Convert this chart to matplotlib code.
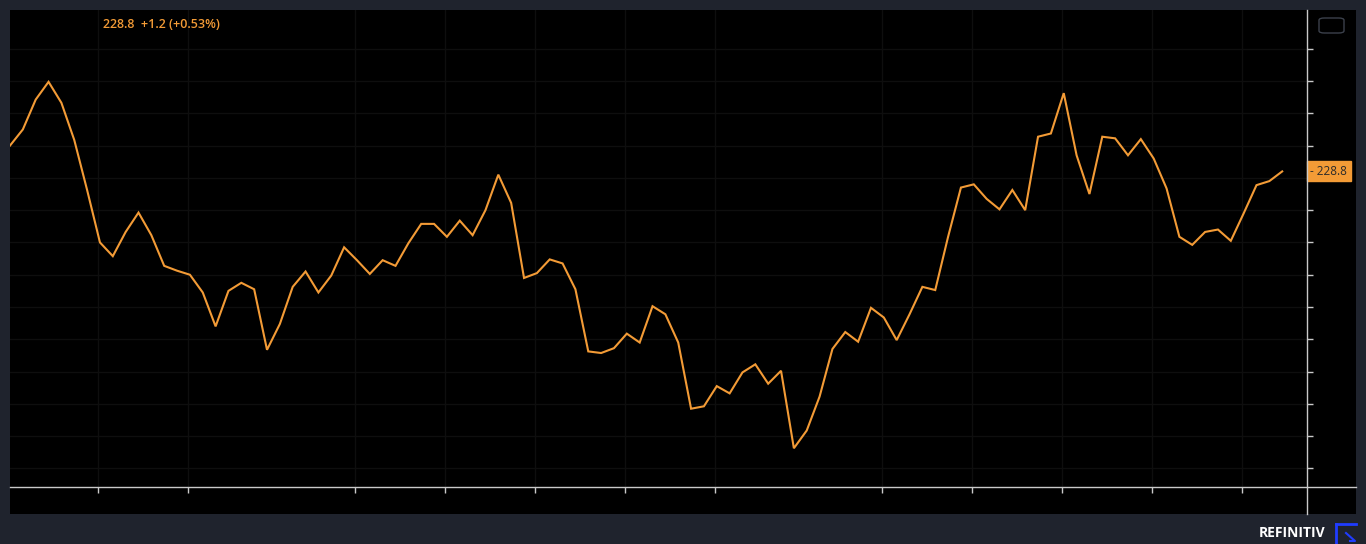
import matplotlib.pyplot as plt
from matplotlib.lines import Line2D
from matplotlib.patches import FancyBboxPatch

# price series (one point per session)
prices = [232.0, 234.0, 237.7, 239.9, 237.3, 232.7, 226.5, 220.0, 218.3, 221.3,
          223.7, 220.9, 217.1, 216.5, 216.0, 213.8, 209.6, 214.0, 215.0, 214.2,
          206.7, 209.9, 214.5, 216.4, 213.8, 215.9, 219.4, 217.8, 216.1, 217.8,
          217.1, 219.9, 222.3, 222.3, 220.7, 222.7, 220.9, 224.0, 228.4, 224.9,
          215.6, 216.2, 217.9, 217.4, 214.2, 206.5, 206.3, 206.9, 208.7, 207.6,
          212.1, 211.1, 207.6, 199.4, 199.7, 202.2, 201.3, 203.9, 204.9, 202.5,
          204.1, 194.5, 196.7, 200.9, 206.8, 208.9, 207.7, 211.9, 210.7, 207.9,
          211.1, 214.5, 214.1, 220.7, 226.8, 227.2, 225.4, 224.1, 226.5, 224.0,
          233.1, 233.5, 238.5, 230.8, 226.0, 233.1, 232.9, 230.8, 232.8, 230.4,
          226.7, 220.7, 219.7, 221.3, 221.6, 220.2, 223.6, 227.1, 227.6, 228.8]
last = 228.8
change = 1.2
change_pct = 0.53

x_ticks = [6.85, 13.85, 26.85, 33.85, 40.85, 47.85, 54.85,
           67.85, 74.85, 81.85, 88.85, 95.85]
y_ticks = list(range(192, 245, 4))

W, H = 1366, 544
navy = '#1f232d'
orange = '#f39b36'
axis_col = '#c9c9c9'
grid_col = '#0e0e0e'

plt.rcParams['font.family'] = ['Open Sans', 'DejaVu Sans']

fig = plt.figure(figsize=(W / 100, H / 100), dpi=100, facecolor=navy)

# black panel
bg = fig.add_axes([10 / W, 30 / H, 1346 / W, 504 / H])
bg.set_facecolor('black')
bg.set_xticks([])
bg.set_yticks([])
for s in bg.spines.values():
    s.set_visible(False)

# main chart
ax = fig.add_axes([10 / W, 57 / H, 1297 / W, 477 / H])
ax.set_facecolor('none')
ax.plot(range(len(prices)), prices, color=orange, lw=1.5, solid_joinstyle='miter')
ax.set_xlim(0, 100.93)
ax.set_ylim(189.7, 248.8)
ax.set_xticks(x_ticks)
ax.set_yticks(y_ticks)
ax.set_xticklabels([])
ax.set_yticklabels([])
ax.yaxis.tick_right()
ax.tick_params(axis='both', colors=axis_col, length=4.5, width=1)
ax.grid(True, color=grid_col, lw=1)
for s in ['top', 'left', 'bottom', 'right']:
    ax.spines[s].set_visible(False)

# axis lines spanning the whole panel
fig.add_artist(Line2D([10 / W, 1356 / W], [57 / H, 57 / H], color=axis_col, lw=1))
fig.add_artist(Line2D([1307 / W, 1307 / W], [30 / H, 534 / H], color=axis_col, lw=1))

# last price tag
ax.annotate(f'- {last:.1f}', xy=(1, last), xycoords=ax.get_yaxis_transform(),
            xytext=(2.5, 0), textcoords='offset points', va='center', ha='left',
            fontsize=8.5, color='#2a2a2a', annotation_clip=False,
            bbox=dict(boxstyle='square,pad=0.3', fc=orange, ec=orange))

# header
fig.text(103 / W, 1 - 25 / H, f'{last:.1f}  +{change:.1f} (+{change_pct:.2f}%)',
         color=orange, fontsize=9, fontweight='semibold', va='center', ha='left')

# small button top right
fig.add_artist(FancyBboxPatch((1319 / W, 1 - 33 / H), 25 / W, 15 / H,
                              boxstyle='round,pad=0,rounding_size=0.004',
                              transform=fig.transFigure, fc='none',
                              ec='#3b404b', lw=1))

# branding
fig.text(1325 / W, 1 - 533 / H, 'REFINITIV', color='white', fontsize=10,
         fontweight='bold', ha='right', va='center')
blue = '#1f3cff'
fig.add_artist(Line2D([1336 / W, 1336 / W], [1 - 544 / H, 1 - 524 / H], color=blue, lw=2))
fig.add_artist(Line2D([1336 / W, 1356 / W], [1 - 524 / H, 1 - 524 / H], color=blue, lw=2))
fig.add_artist(Line2D([1346 / W, 1355 / W, 1350 / W], [1 - 533 / H, 1 - 541 / H, 1 - 541 / H], color=blue, lw=1.5))

fig.savefig('out.png', dpi=100, facecolor=navy)
